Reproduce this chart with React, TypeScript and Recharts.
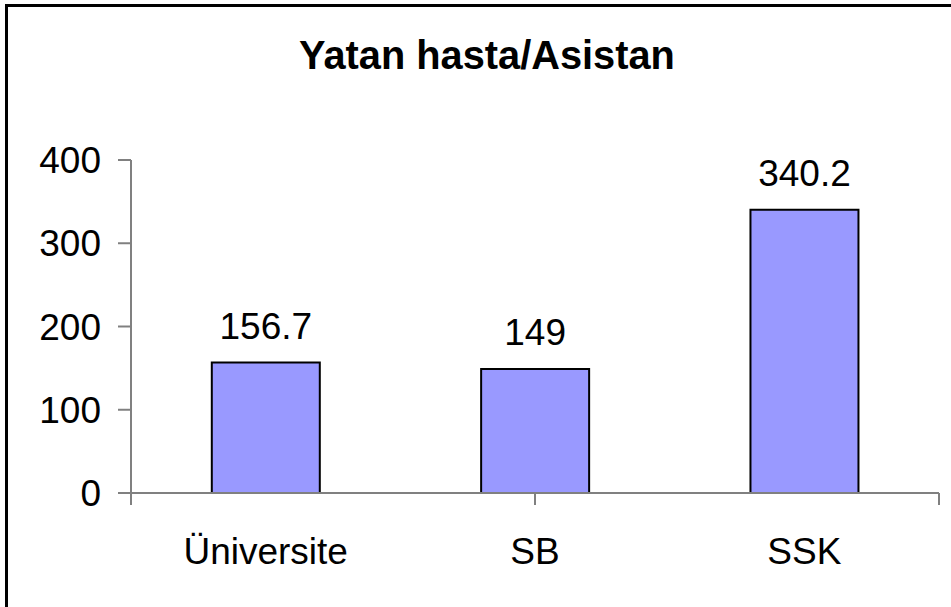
import React from "react"
import { BarChart, Bar, XAxis, YAxis, LabelList } from "recharts"

// Chart data
const categories = ["Üniversite", "SB", "SSK"]
const values = [156.7, 149, 340.2]
const yTicks = [0, 100, 200, 300, 400]
const boundaryTicks = [0, 1, 2, 3]

const data = categories.map((name, i) => ({ name, value: values[i] }))

const FONT = "'Liberation Sans', Arial, sans-serif"
const AXIS = "#808080"

export default function App() {
  return (
    <div
      style={{
        position: "absolute",
        left: 0,
        top: 0,
        width: 951,
        height: 607,
        overflow: "hidden",
        background: "#fff",
        fontFamily: FONT,
      }}
    >
      <div
        style={{
          position: "absolute",
          left: 5,
          top: 4,
          width: 980,
          height: 640,
          borderLeft: "3px solid #000",
          borderTop: "3px solid #000",
        }}
      />
      <div
        style={{
          position: "absolute",
          left: 0,
          top: 32,
          width: 974,
          textAlign: "center",
          fontSize: 41,
          fontWeight: "bold",
          color: "#000",
          transform: "scaleX(0.97)",
        }}
      >
        Yatan hasta/Asistan
      </div>
      <div style={{ position: "absolute", left: 0, top: 0 }}>
        <BarChart
          width={951}
          height={607}
          data={data}
          margin={{ top: 160, right: 12, left: 0, bottom: 14 }}
          barCategoryGap="30%"
        >
          <XAxis
            xAxisId="bounds"
            type="number"
            domain={[0, 3]}
            ticks={boundaryTicks}
            allowDataOverflow
            height={12}
            axisLine={{ stroke: AXIS, strokeWidth: 2 }}
            tickLine={{ stroke: AXIS, strokeWidth: 2 }}
            tickSize={12}
            tickFormatter={() => ""}
          />
          <XAxis
            xAxisId="cat"
            dataKey="name"
            height={88}
            axisLine={false}
            tickLine={false}
            tickSize={0}
            tickMargin={33}
            tick={{ fill: "#000", fontSize: 37, fontFamily: FONT }}
          />
          <YAxis
            width={131}
            domain={[0, 400]}
            ticks={yTicks}
            axisLine={{ stroke: AXIS, strokeWidth: 2 }}
            tickLine={{ stroke: AXIS, strokeWidth: 2 }}
            tickSize={13}
            tickMargin={17}
            tick={{ fill: "#000", fontSize: 37, fontFamily: FONT }}
          />
          <Bar
            xAxisId="cat"
            dataKey="value"
            fill="#9999FF"
            stroke="#000"
            strokeWidth={2}
            isAnimationActive={false}
          >
            <LabelList
              dataKey="value"
              position="top"
              offset={24}
              style={{ fill: "#000", fontSize: 37, fontFamily: FONT }}
            />
          </Bar>
        </BarChart>
      </div>
    </div>
  )
}
